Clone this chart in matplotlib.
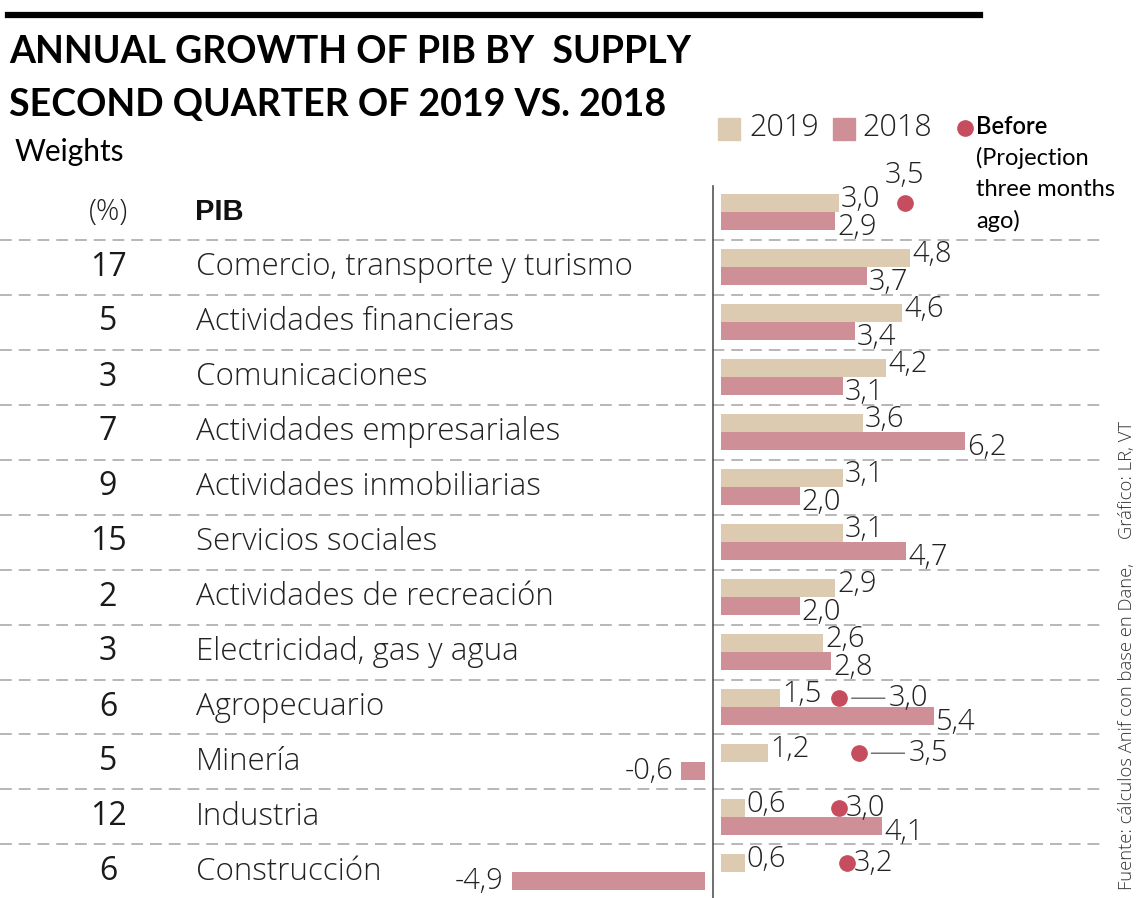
import numpy as np
import matplotlib.pyplot as plt
from matplotlib import transforms
from matplotlib.lines import Line2D
from matplotlib.patches import Rectangle

plt.rcParams['lines.scale_dashes'] = False

# datos (crecimiento anual %, segundo trimestre)
sectors = ["PIB", "Comercio, transporte y turismo", "Actividades financieras",
           "Comunicaciones", "Actividades empresariales", "Actividades inmobiliarias",
           "Servicios sociales", "Actividades de recreación", "Electricidad, gas y agua",
           "Agropecuario", "Minería", "Industria", "Construcción"]
weights = ["(%)", "17", "5", "3", "7", "9", "15", "2", "3", "6", "5", "12", "6"]
growth_2019 = [3.0, 4.8, 4.6, 4.2, 3.6, 3.1, 3.1, 2.9, 2.6, 1.5, 1.2, 0.6, 0.6]
growth_2018 = [2.9, 3.7, 3.4, 3.1, 6.2, 2.0, 4.7, 2.0, 2.8, 5.4, -0.6, 4.1, -4.9]
proj_sectors = ["PIB", "Agropecuario", "Minería", "Industria", "Construcción"]
proj_values = [3.5, 3.0, 3.5, 3.0, 3.2]

C19 = "#dccbb0"
C18 = "#cf8f96"
CDOT = "#c64d5e"
TXT = "#222222"

W, H = 1136, 898
PX = 39.4      # pixeles por punto porcentual
X0 = 713       # eje vertical
ROW0 = 212     # centro de la primera fila
PITCH = 55

fig = plt.figure(figsize=(W / 100, H / 100), dpi=100)
ax = fig.add_axes([0, 0, 1, 1])
ax.axis("off")
ax.set_xlim(-X0 / PX, (W - X0) / PX)
ax.set_ylim((H - ROW0) / PITCH, -ROW0 / PITCH)


def fx(px):
    return px / W


def fy(py):
    return 1 - py / H


def fmt(v):
    return f"{v:.1f}".replace(".", ",")


num_font = dict(family="Open Sans", fontweight="light", color=TXT)
NUM_FS = 21

n = len(sectors)
y = np.arange(n)
h = 0.32
gap = 0.2
v19 = np.array(growth_2019)
v18 = np.array(growth_2018)
left19 = np.where(v19 >= 0, gap, -gap)
left18 = np.where(v18 >= 0, gap, -gap)

ax.barh(y - h / 2, v19, height=h, left=left19, color=C19, zorder=2)
ax.barh(y + h / 2, v18, height=h, left=left18, color=C18, zorder=2)

for yy, vals, lefts, dy in [(y - h / 2, v19, left19, 2.5), (y + h / 2, v18, left18, -4.5)]:
    for yi, v, l in zip(yy, vals, lefts):
        if v >= 0:
            ax.annotate(fmt(v), (l + v, yi), xytext=(1.5, dy), textcoords="offset points",
                        ha="left", va="center", fontsize=NUM_FS, **num_font)
        else:
            ax.annotate(fmt(v), (l + v, yi), xytext=(-6, 0), textcoords="offset points",
                        ha="right", va="center", fontsize=NUM_FS, **num_font)

# separadores y eje
for i in range(n - 1):
    ax.plot([-X0 / PX, (1103 - X0) / PX], [i + 0.5, i + 0.5], color="#a3a3a3",
            lw=1.1, dashes=(8.5, 5), zorder=1)
ax.plot([0, 0], [(186 - ROW0) / PITCH, (H - ROW0) / PITCH], color="#555555", lw=1.2, zorder=3)

# proyecciones de hace tres meses
label_mode = {"PIB": "above", "Agropecuario": "line", "Minería": "line",
              "Industria": "beside", "Construcción": "beside"}
for name, v in zip(proj_sectors, proj_values):
    i = sectors.index(name)
    yi = i - h / 2
    tr = ax.transData
    if name == "PIB":
        tr = transforms.offset_copy(ax.transData, fig, x=33, y=0, units="points")
    ax.plot([v + gap], [yi], "o", color=CDOT, ms=11, transform=tr, zorder=4)
    mode = label_mode[name]
    if mode == "above":
        ax.annotate(fmt(v), (v + gap, yi), xycoords=tr, xytext=(0, 20),
                    textcoords="offset points", ha="center", va="center",
                    fontsize=NUM_FS, **num_font)
    elif mode == "line":
        ax.annotate(fmt(v), (v + gap, yi), xytext=(36, 0), textcoords="offset points",
                    ha="left", va="center", fontsize=NUM_FS,
                    arrowprops=dict(arrowstyle="-", color="#555555", lw=0.9,
                                    shrinkA=1, shrinkB=9), **num_font)
    else:
        ax.annotate(fmt(v), (v + gap, yi), xytext=(5, 0), textcoords="offset points",
                    ha="left", va="center", fontsize=NUM_FS, **num_font)

# columnas de texto
for i in range(n):
    ax.text(108 / W, i, weights[i], transform=ax.get_yaxis_transform(),
            ha="center", va="center", fontsize=23 if i else 21,
            family="Open Sans", color="#1a1a1a" if i else TXT,
            fontweight="normal" if i else "light")
    if i == 0:
        ax.text(195 / W, i, sectors[i], transform=ax.get_yaxis_transform(),
                ha="left", va="center", fontsize=21, family="Liberation Sans",
                fontweight="bold", color="#111111")
    else:
        ax.text(196 / W, i, sectors[i], transform=ax.get_yaxis_transform(),
                ha="left", va="center", fontsize=22.5, **num_font)

# titulo
fig.add_artist(Line2D([fx(8), fx(980)], [fy(15), fy(15)], color="black", lw=4.5))
fig.text(fx(9), fy(52), "ANNUAL GROWTH OF PIB BY  SUPPLY", ha="left", va="center",
         fontsize=27, family="Lato", fontweight="bold", color="black")
fig.text(fx(9), fy(105), "SECOND QUARTER OF 2019 VS. 2018", ha="left", va="center",
         fontsize=27, family="Lato", fontweight="bold", color="black")
fig.text(fx(15), fy(152), "Weights", ha="left", va="center", fontsize=21.5,
         family="Lato", color="black")

# leyenda
fig.add_artist(Rectangle((fx(718), fy(140)), 22 / W, 22 / H, color=C19,
                         transform=fig.transFigure))
fig.text(fx(749), fy(128), "2019", ha="left", va="center", fontsize=22, **num_font)
fig.add_artist(Rectangle((fx(833), fy(140)), 22 / W, 22 / H, color=C18,
                         transform=fig.transFigure))
fig.text(fx(862), fy(128), "2018", ha="left", va="center", fontsize=22, **num_font)
fig.add_artist(Line2D([fx(965)], [fy(128)], marker="o", ms=11, color=CDOT, lw=0))
fig.text(fx(976), fy(127), "Before", ha="left", va="center", fontsize=17,
         family="Lato", fontweight="semibold", color="black")
for k, line in enumerate(["(Projection", "three months", "ago)"]):
    fig.text(fx(976), fy(158 + 31.5 * k), line, ha="left", va="center", fontsize=17,
             family="Lato", color="black")

fig.text(fx(1127), fy(655), "Fuente: cálculos Anif con base en Dane,     Gráfico: LR, VT",
         rotation=90, ha="center", va="center", fontsize=13.2, family="Open Sans",
         fontweight="light", color="#333333")

fig.savefig("out.png", dpi=100, facecolor="white")
